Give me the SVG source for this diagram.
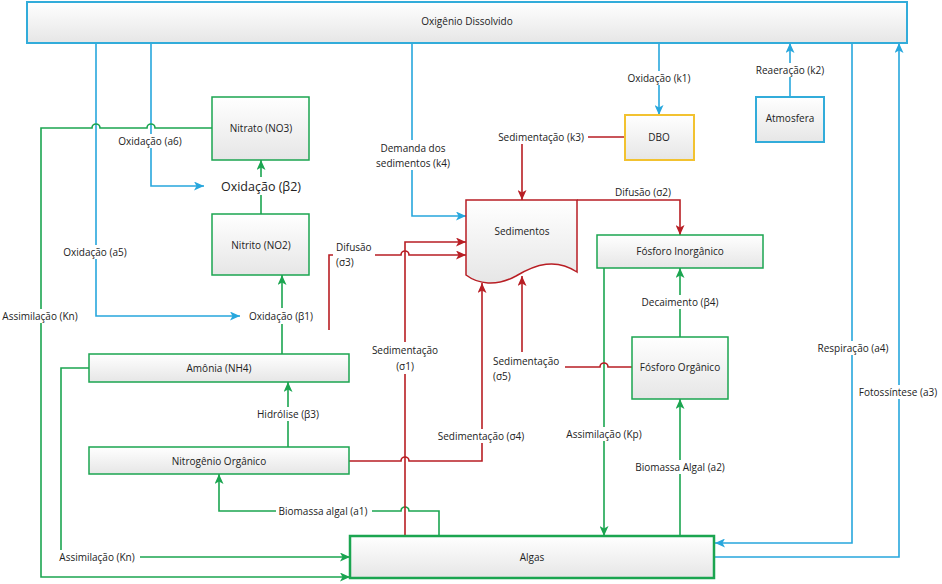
<svg xmlns="http://www.w3.org/2000/svg" width="942" height="584" viewBox="0 0 942 584">
<defs>
<linearGradient id="bg" x1="0" y1="0" x2="0" y2="1"><stop offset="0" stop-color="#ffffff"/><stop offset="1" stop-color="#e6e6e6"/></linearGradient>
<marker id="ab" markerUnits="userSpaceOnUse" markerWidth="11" markerHeight="9" refX="10" refY="4.5" orient="auto"><path d="M0,0 L10,4.5 L0,9 L2.5,4.5 z" fill="#27A7DD"/></marker>
<marker id="ag" markerUnits="userSpaceOnUse" markerWidth="11" markerHeight="9" refX="10" refY="4.5" orient="auto"><path d="M0,0 L10,4.5 L0,9 L2.5,4.5 z" fill="#1BA550"/></marker>
<marker id="ar" markerUnits="userSpaceOnUse" markerWidth="11" markerHeight="9" refX="10" refY="4.5" orient="auto"><path d="M0,0 L10,4.5 L0,9 L2.5,4.5 z" fill="#B81E24"/></marker>
</defs>
<style>
text{font-family:"Open Sans","Noto Sans",sans-serif;font-size:10px;fill:#222;dominant-baseline:central}
.c{text-anchor:middle}
.box{fill:url(#bg)}
.gb{stroke:#1BA550;stroke-width:1.5}
.bb{stroke:#32ACDA;stroke-width:2}
.yb{stroke:#F2C230;stroke-width:2}
.rb{stroke:#B81E24;stroke-width:1.5}
.lb{fill:none;stroke:#27A7DD;stroke-width:1.6}
.lg{fill:none;stroke:#1BA550;stroke-width:1.6}
.lr{fill:none;stroke:#B81E24;stroke-width:1.6}
.wb{fill:#fff}
.big{font-size:12.5px}
</style>
<rect width="942" height="584" fill="#fff"/>

<g id="connectors">
<!-- blue -->
<path class="lb" d="M96,43 V316 H240" marker-end="url(#ab)"/>
<path class="lb" d="M151,43 V186 H204" marker-end="url(#ab)"/>
<path class="lb" d="M412,43 V216 H466" marker-end="url(#ab)"/>
<path class="lb" d="M659,43 V115" marker-end="url(#ab)"/>
<path class="lb" d="M790,97 V43" marker-end="url(#ab)"/>
<path class="lb" d="M852,43 V543 H715" marker-end="url(#ab)"/>
<path class="lb" d="M715,557 H899 V43" marker-end="url(#ab)"/>
<!-- green -->
<path class="lg" d="M212,128 H155 a4,4 0 0 0 -8,0 H100 a4,4 0 0 0 -8,0 H41 V577 H350" marker-end="url(#ag)"/>
<path class="lg" d="M89,368 H61 V557 H350" marker-end="url(#ag)"/>
<path class="lg" d="M261,214 V160" marker-end="url(#ag)"/>
<path class="lg" d="M282,354 V275" marker-end="url(#ag)"/>
<path class="lg" d="M288,447 V382" marker-end="url(#ag)"/>
<path class="lg" d="M439,536 V511 H409 a4,4 0 0 0 -8,0 H219 V474" marker-end="url(#ag)"/>
<path class="lg" d="M604,268 V536" marker-end="url(#ag)"/>
<path class="lg" d="M680,337 V268" marker-end="url(#ag)"/>
<path class="lg" d="M680,536 V399" marker-end="url(#ag)"/>
<!-- red -->
<path class="lr" d="M405,536 V242 H466" marker-end="url(#ar)"/>
<path class="lr" d="M329,330 V255 H401 a4,4 0 0 1 8,0 H466" marker-end="url(#ar)"/>
<path class="lr" d="M349,461 H401 a4,4 0 0 1 8,0 H482 V283" marker-end="url(#ar)"/>
<path class="lr" d="M632,367 H608 a4,4 0 0 0 -8,0 H522 V276" marker-end="url(#ar)"/>
<path class="lr" d="M625,137 H522 V200" marker-end="url(#ar)"/>
<path class="lr" d="M577,200 H680 V235" marker-end="url(#ar)"/>

<!-- labels -->
<g id="labels">
<rect class="wb" x="646" y="71" width="27" height="14"/><text class="c" x="659" y="78">Oxidação (k1)</text>
<rect class="wb" x="780" y="63" width="20" height="14"/><text class="c" x="790" y="70">Reaeração (k2)</text>
<rect class="wb" x="840" y="341" width="26" height="14"/><text class="c" x="853" y="348">Respiração (a4)</text>
<rect class="wb" x="886" y="385" width="26" height="14"/><text class="c" x="898" y="392">Fotossíntese (a3)</text>
<rect class="wb" x="140" y="134" width="22" height="14"/><text class="c" x="150" y="141">Oxidação (a6)</text>
<rect class="wb" x="86" y="245" width="20" height="14"/><text class="c" x="95" y="252">Oxidação (a5)</text>
<rect class="wb" x="402" y="140" width="20" height="30"/><text class="c" x="413" y="148">Demanda dos</text><text class="c" x="413" y="163">sedimentos (k4)</text>
<rect class="wb" x="0" y="309" width="82" height="14"/><text class="c" x="40" y="316">Assimilação (Kn)</text>
<rect class="wb" x="56" y="550" width="84" height="14"/><text class="c" x="97" y="557">Assimilação (Kn)</text>
<rect class="wb" x="218" y="177" width="86" height="18"/><text class="c big" x="261" y="186">Oxidação (β2)</text>
<rect class="wb" x="243" y="308" width="78" height="16"/><text class="c" x="281" y="316">Oxidação  (β1)</text>
<rect class="wb" x="254" y="407" width="68" height="14"/><text class="c" x="288" y="414">Hidrólise (β3)</text>
<rect class="wb" x="276" y="504" width="96" height="14"/><text class="c" x="323" y="511">Biomassa algal (a1)</text>
<rect class="wb" x="561" y="427" width="86" height="14"/><text class="c" x="604" y="434">Assimilação (Kp)</text>
<rect class="wb" x="636" y="295" width="88" height="14"/><text class="c" x="680" y="302">Decaimento (β4)</text>
<rect class="wb" x="630" y="460" width="100" height="14"/><text class="c" x="680" y="467">Biomassa Algal (a2)</text>
<rect class="wb" x="368" y="342" width="74" height="32"/><text class="c" x="405" y="350">Sedimentação</text><text class="c" x="405" y="366">(σ1)</text>
<rect class="wb" x="333" y="240" width="42" height="30"/><text x="336" y="247">Difusão</text><text x="336" y="262">(σ3)</text>
<rect class="wb" x="434" y="429" width="96" height="14"/><text class="c" x="481" y="436">Sedimentação (σ4)</text>
<rect class="wb" x="491" y="352" width="74" height="32"/><text x="493" y="361">Sedimentação</text><text x="493" y="376">(σ5)</text>
<rect class="wb" x="494" y="130" width="94" height="14"/><text class="c" x="541" y="137">Sedimentação (k3)</text>
<rect class="wb" x="612" y="184" width="64" height="15"/><text class="c" x="643" y="192">Difusão (σ2)</text>
</g>
</g>

<g id="oxigenio"><rect class="box bb" x="27" y="2" width="880" height="41"/><text class="c" x="467" y="21">Oxigênio Dissolvido</text></g>
<g id="dbo"><rect class="box yb" x="625" y="115" width="69" height="45"/><text class="c" x="659" y="137">DBO</text></g>
<g id="atmosfera"><rect class="box bb" x="756" y="97" width="68" height="45"/><text class="c" x="790" y="118">Atmosfera</text></g>
<g id="nitrato"><rect class="box gb" x="212" y="97" width="97" height="63"/><text class="c" x="261" y="128">Nitrato (NO3)</text></g>
<g id="nitrito"><rect class="box gb" x="212" y="214" width="97" height="61"/><text class="c" x="261" y="245">Nitrito (NO2)</text></g>
<g id="amonia"><rect class="box gb" x="89" y="354" width="260" height="28"/><text class="c" x="219" y="368">Amônia (NH4)</text></g>
<g id="nitrogenio"><rect class="box gb" x="89" y="447" width="260" height="27"/><text class="c" x="219" y="461">Nitrogênio Orgânico</text></g>
<g id="algas"><rect class="box" x="350" y="536" width="364" height="42" stroke="#1BA550" stroke-width="2.5"/><text class="c" x="532" y="557">Algas</text></g>
<g id="sedimentos"><path class="box rb" d="M466,200 H577 V272 C556,258 536,264 516,276 C496,287 478,284 466,275 Z"/><text class="c" x="522" y="231">Sedimentos</text></g>
<g id="fosforo-inorganico"><rect class="box gb" x="597" y="235" width="166" height="33"/><text class="c" x="680" y="251">Fósforo Inorgânico</text></g>
<g id="fosforo-organico"><rect class="box gb" x="632" y="337" width="96" height="62"/><text class="c" x="680" y="367">Fósforo Orgânico</text></g>
</svg>
